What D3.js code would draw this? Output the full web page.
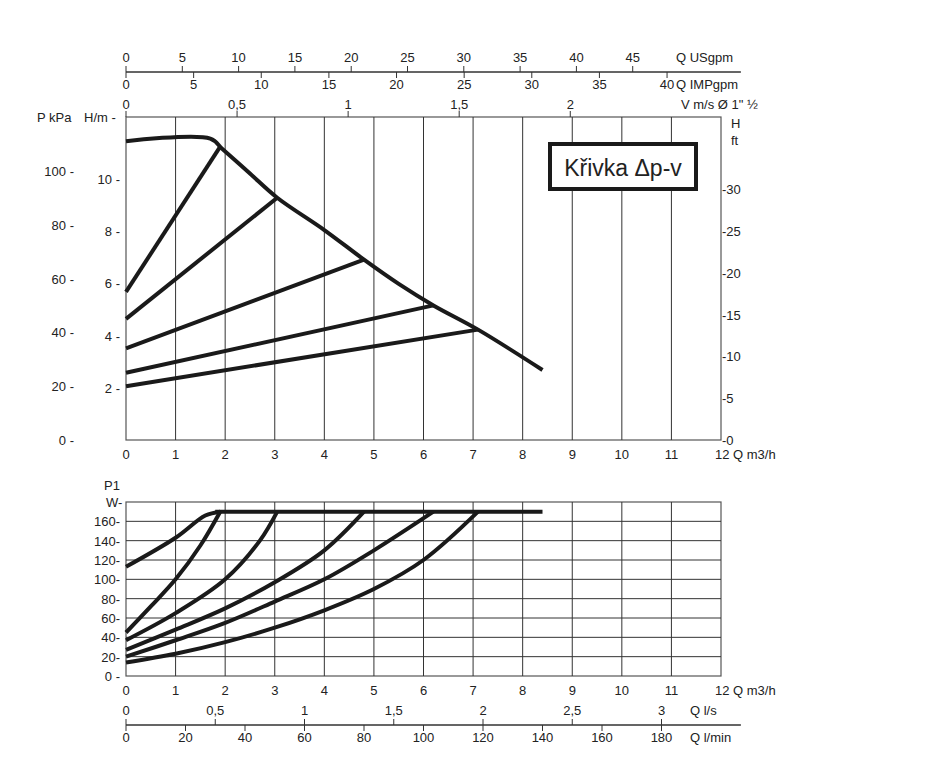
<!DOCTYPE html>
<html><head><meta charset="utf-8">
<script src="https://cdn.jsdelivr.net/npm/d3@7"></script>
<style>
body{margin:0;background:#fff}
text{font-family:"Liberation Sans Narrow","Liberation Sans",Arial,sans-serif;font-size:13px;fill:#222}
</style></head><body>
<svg id="c" width="930" height="771"></svg>
<script>
// flow in m3/h, head in kPa
var headMax = [[0,111],[1.7,112],[1.95,108],[2.5,99],[3.05,90],[4,78],[4.8,67],[5.5,58],[6.2,50],[7.1,41],[8.4,26]];
var headLines = [
  [[0,55],[1.9,109]],
  [[0,45],[3.05,90]],
  [[0,34],[4.8,67]],
  [[0,25],[6.2,50]],
  [[0,20],[7.1,41]]
];
var powerFlat = [[1.8,170],[8.4,170]];
var powerCurves = [
  [[0,113],[1,143],[1.6,166],[1.9,170]],
  [[0,45],[0.5,72],[1,100],[1.5,135],[1.9,170]],
  [[0,37],[1,65],[2,100],[2.7,140],[3.05,170]],
  [[0,27],[1,48],[2,70],[3,97],[4,130],[4.8,170]],
  [[0,20],[1,37],[2,55],[3,77],[4,100],[5,130],[6.2,170]],
  [[0,14],[1,23],[2,35],[3,50],[4,68],[5,90],[6,120],[7.1,170]]
];
var qTicks = d3.range(0,13);
var kpaTicks = [0,20,40,60,80,100];
var hTicks = [2,4,6,8,10];
var ftTicks = [0,5,10,15,20,25,30];
var wTicks = [0,20,40,60,80,100,120,140,160];
var usTicks = d3.range(0,50,5), impTicks = d3.range(0,45,5);
var vTicks = [0,0.5,1,1.5,2], lsTicks = [0,0.5,1,1.5,2,2.5,3], lminTicks = d3.range(0,200,20);

var svg = d3.select("#c");
var x = d3.scaleLinear().domain([0,12]).range([126,721]);
var y1 = d3.scaleLinear().domain([0,120]).range([440,117]);
var y2 = d3.scaleLinear().domain([0,180]).range([676,502]);
var g = svg.append("g");
var fmt = function(v){return String(v).replace(".",",");};

function frame(yS, top){
  g.append("rect").attr("x",x(0)).attr("y",top).attr("width",x(12)-x(0)).attr("height",yS(0)-top)
   .attr("fill","none").attr("stroke","#555").attr("stroke-width",1.2);
  g.selectAll(null).data(qTicks.slice(1,12)).join("line")
   .attr("x1",d=>x(d)).attr("x2",d=>x(d)).attr("y1",top).attr("y2",yS(0)).attr("stroke","#333").attr("stroke-width",1);
  g.selectAll(null).data(qTicks).join("text").attr("x",d=>x(d)).attr("y",yS(0)+19)
   .attr("text-anchor","middle").text(d=>d===12?"":d);
  g.append("text").attr("x",x(12)-6).attr("y",yS(0)+19).text("12 Q m3/h");
}
frame(y1,117);
frame(y2,502);
// lower horizontal grid
g.selectAll(null).data(wTicks.slice(1)).join("line").attr("x1",x(0)).attr("x2",x(12))
 .attr("y1",d=>y2(d)).attr("y2",d=>y2(d)).attr("stroke","#333");

// left axes
g.selectAll(null).data(kpaTicks).join("text").attr("x",74).attr("y",d=>y1(d)+5).attr("text-anchor","end").text(d=>d+" -");
g.selectAll(null).data(hTicks).join("text").attr("x",120).attr("y",d=>y1(d*9.7)+5).attr("text-anchor","end").text(d=>d+" -");
g.append("text").attr("x",37).attr("y",122).text("P kPa");
g.append("text").attr("x",84).attr("y",122).text("H/m -");
// right ft axis
var ft = d3.scaleLinear().domain([0,30]).range([440,189]);
g.selectAll(null).data(ftTicks).join("text").attr("x",722).attr("y",d=>ft(d)+5).text(d=>"-"+d);
g.append("text").attr("x",731).attr("y",128).text("H");
g.append("text").attr("x",731).attr("y",145).text("ft");
// lower left
g.selectAll(null).data(wTicks).join("text").attr("x",120).attr("y",d=>y2(d)+5).attr("text-anchor","end").text(d=>d+(d===0?" -":"-"));
g.append("text").attr("x",104).attr("y",490).text("P1");
g.append("text").attr("x",106).attr("y",507).text("W-");

// top and bottom secondary axes
function hAxis(yl, ticks, conv, above, below, label, labelX){
  g.append("line").attr("x1",x(0)).attr("x2",x(12.4)).attr("y1",yl).attr("y2",yl).attr("stroke","#333");
  var t = g.selectAll(null).data(ticks).join("g");
  t.append("line").attr("x1",d=>x(conv(d))).attr("x2",d=>x(conv(d))).attr("y1",yl-(above?6:0)).attr("y2",yl+(below?6:0)).attr("stroke","#333");
  t.append("text").attr("x",d=>x(conv(d))).attr("y",above?yl-10:yl+17).attr("text-anchor","middle").text(d=>fmt(d));
  g.append("text").attr("x",labelX).attr("y",above?yl-10:yl+17).text(label);
}
hAxis(72, usTicks, d=>d*0.2271, true, false, "Q USgpm", 676);
hAxis(72, impTicks, d=>d*0.2728, false, true, "Q IMPgpm", 676);
hAxis(725, lsTicks, d=>d*3.6, true, false, "Q l/s", 690);
hAxis(725, lminTicks, d=>d*0.06, false, true, "Q l/min", 690);
// velocity axis on top frame
g.selectAll(null).data(vTicks).join("line").attr("x1",d=>x(d*4.48)).attr("x2",d=>x(d*4.48))
 .attr("y1",111).attr("y2",117).attr("stroke","#333");
g.selectAll(null).data(vTicks).join("text").attr("x",d=>x(d*4.48)).attr("y",109).attr("text-anchor","middle").text(d=>fmt(d));
g.append("text").attr("x",681).attr("y",109).text("V m/s Ø 1\" ½");

// curves
var l1 = d3.line().x(d=>x(d[0])).y(d=>y1(d[1])).curve(d3.curveCatmullRom);
var l2 = d3.line().x(d=>x(d[0])).y(d=>y2(d[1])).curve(d3.curveCatmullRom);
[headMax].concat(headLines).forEach(function(c){
  g.append("path").attr("d",l1(c)).attr("fill","none").attr("stroke","#1a1a1a").attr("stroke-width",4);
});
[powerFlat].concat(powerCurves).forEach(function(c){
  g.append("path").attr("d",l2(c)).attr("fill","none").attr("stroke","#1a1a1a").attr("stroke-width",4);
});

// label box
g.append("rect").attr("x",550).attr("y",144).attr("width",146).attr("height",45).attr("fill","#fff").attr("stroke","#1a1a1a").attr("stroke-width",4);
g.append("text").attr("x",623).attr("y",176).attr("text-anchor","middle").style("font-size","23px").text("Křivka Δp-v");
</script></body></html>
